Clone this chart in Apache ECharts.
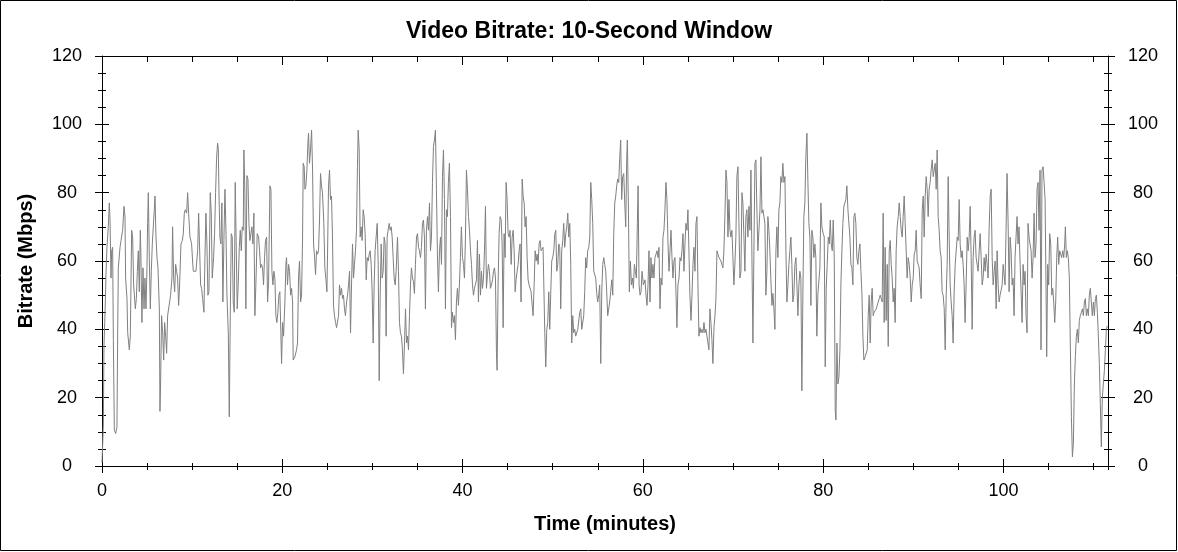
<!DOCTYPE html>
<html>
<head>
<meta charset="utf-8">
<title>Video Bitrate</title>
<script src="https://cdn.jsdelivr.net/npm/echarts@6/dist/echarts.min.js"></script>
<style>
	html, body { margin: 0; padding: 0; background: #fff; }
	#chart { width: 1178px; height: 552px; }
</style>
</head>
<body>
<div id="chart"></div>
<script>
// [minute, Mbps], one list per stretch of the film
var part1 = [
	[0.00, 1], [0.15, 12], [0.22, 35], [0.30, 42], [0.37, 48], [0.44, 56], [0.55, 64], [0.70, 70], [0.81, 77], [0.89, 72],
	[1.00, 55], [1.07, 63], [1.18, 64], [1.26, 37], [1.37, 10.5], [1.52, 9.5], [1.66, 11.5], [1.74, 39], [1.81, 58], [2.00, 64],
	[2.11, 66], [2.29, 69], [2.44, 76], [2.55, 73], [2.62, 55], [2.77, 49], [2.85, 39], [3.03, 34], [3.14, 38], [3.29, 69],
	[3.40, 67], [3.51, 53], [3.70, 46], [3.81, 49], [3.92, 57], [4.03, 63], [4.14, 51], [4.25, 69], [4.32, 61], [4.43, 42],
	[4.55, 58], [4.66, 46], [4.77, 55], [4.88, 46], [4.99, 58], [5.06, 71], [5.14, 80], [5.25, 61], [5.36, 46], [5.47, 57],
	[5.58, 65], [5.69, 65], [5.80, 75], [5.88, 79], [5.99, 67], [6.10, 61], [6.21, 58], [6.36, 46], [6.43, 16], [6.50, 24],
	[6.61, 44], [6.73, 39], [6.84, 31], [6.95, 42], [7.06, 38], [7.17, 33], [7.28, 44], [7.46, 44], [7.61, 50], [7.76, 55],
	[7.83, 70], [7.95, 55], [8.06, 51], [8.17, 59], [8.28, 57], [8.39, 55], [8.50, 47], [8.61, 53], [8.76, 65], [8.91, 66],
	[9.02, 68], [9.13, 74], [9.24, 75], [9.39, 74], [9.50, 80], [9.61, 74], [9.76, 67], [9.94, 65], [10.05, 60], [10.13, 57],
	[10.42, 57], [10.61, 63], [10.72, 74], [10.83, 74], [10.94, 53], [11.05, 52], [11.16, 49], [11.31, 45], [11.42, 61], [11.53, 74],
	[11.64, 65], [11.75, 50], [11.86, 51], [12.01, 80], [12.12, 74], [12.23, 55], [12.38, 61], [12.49, 68], [12.60, 80], [12.71, 90],
	[12.82, 94.5], [12.90, 93], [12.97, 81], [13.08, 67], [13.19, 65], [13.30, 77], [13.41, 48], [13.53, 67], [13.64, 81], [13.75, 69],
	[13.86, 50], [14.01, 39], [14.12, 14.4], [14.23, 44], [14.34, 68], [14.45, 67], [14.56, 48], [14.67, 45], [14.78, 83], [14.89, 83],
	[15.00, 46], [15.11, 53], [15.23, 64], [15.34, 69], [15.45, 63], [15.56, 70], [15.67, 69], [15.74, 92.5], [15.85, 80], [15.96, 46],
	[16.07, 85], [16.19, 84], [16.30, 71], [16.41, 66], [16.52, 68], [16.63, 70], [16.74, 65], [16.85, 74], [16.96, 44], [17.07, 53],
	[17.22, 68], [17.37, 67], [17.48, 63], [17.59, 58], [17.70, 59], [17.81, 58], [17.92, 53], [18.03, 61], [18.14, 66], [18.26, 67],
	[18.37, 48], [18.48, 54], [18.63, 82], [18.74, 81], [18.85, 57], [18.96, 53], [19.07, 57], [19.18, 55], [19.29, 44], [19.40, 42],
	[19.51, 45], [19.62, 50], [19.73, 51], [19.84, 39], [19.92, 30], [20.03, 42], [20.14, 38]
];

var part2 = [
	[20.29, 48], [20.40, 59], [20.47, 61], [20.58, 53], [20.70, 59], [20.81, 57], [20.92, 50], [21.03, 52], [21.14, 48], [21.21, 31],
	[21.40, 32], [21.58, 34], [21.69, 36], [21.80, 55], [21.91, 60], [22.03, 48], [22.14, 50], [22.25, 67], [22.32, 88.6], [22.43, 87.6],
	[22.51, 81], [22.62, 82], [22.73, 86.6], [22.84, 94.4], [22.91, 97.4], [23.02, 88.6], [23.13, 92.5], [23.25, 98.3], [23.36, 86.6], [23.47, 65],
	[23.58, 61], [23.69, 56], [23.80, 63], [23.91, 62], [24.02, 63], [24.13, 72], [24.24, 85.6], [24.35, 82], [24.46, 80], [24.61, 71],
	[24.72, 58], [24.83, 55], [24.95, 51], [25.02, 62], [25.13, 82], [25.24, 86.6], [25.35, 78], [25.46, 79], [25.57, 67], [25.68, 47],
	[25.79, 44], [25.91, 42], [26.02, 40.5], [26.13, 40.5], [26.24, 44], [26.35, 53], [26.46, 50], [26.57, 52], [26.68, 49], [26.79, 50],
	[26.90, 46], [27.01, 44], [27.13, 48], [27.24, 50], [27.35, 53], [27.46, 57], [27.57, 39], [27.68, 53], [27.79, 65], [27.90, 55],
	[28.01, 59], [28.12, 63], [28.23, 69], [28.34, 87.6], [28.42, 98.3], [28.53, 92.5], [28.64, 67], [28.75, 70], [28.86, 66], [28.97, 75],
	[29.08, 73], [29.19, 68], [29.31, 54.5], [29.42, 61], [29.53, 60], [29.64, 62], [29.75, 63], [29.86, 59], [29.97, 51], [30.08, 36],
	[30.19, 53], [30.30, 63], [30.41, 67], [30.53, 71], [30.64, 59], [30.75, 25], [30.86, 50], [30.97, 65], [31.08, 55], [31.19, 57],
	[31.30, 67], [31.41, 65], [31.52, 38], [31.63, 67], [31.74, 69], [31.86, 71], [31.97, 69], [32.08, 70], [32.19, 67], [32.30, 61],
	[32.41, 55], [32.52, 53], [32.63, 57], [32.78, 67], [32.89, 57], [33.00, 42], [33.11, 39], [33.22, 38], [33.33, 34], [33.44, 27],
	[33.56, 36], [33.67, 46], [33.78, 36], [33.89, 38], [34.00, 34], [34.11, 44], [34.22, 53], [34.33, 58], [34.44, 55], [34.55, 54],
	[34.66, 50.5], [34.77, 59], [34.89, 67], [35.00, 68], [35.11, 64], [35.22, 63], [35.33, 61], [35.44, 64], [35.55, 71], [35.66, 72],
	[35.77, 67], [35.88, 46], [35.99, 69], [36.11, 73], [36.22, 69], [36.33, 77], [36.44, 63], [36.55, 67], [36.66, 83], [36.77, 93.5],
	[36.88, 95.4], [36.99, 98.3], [37.10, 81], [37.21, 62], [37.32, 51], [37.44, 63], [37.55, 67], [37.66, 59], [37.77, 84.7], [37.88, 92.5],
	[37.99, 78], [38.10, 46], [38.21, 75], [38.32, 73], [38.43, 83], [38.54, 88.6], [38.66, 73], [38.77, 40.5], [38.88, 45], [38.99, 42],
	[39.10, 44], [39.21, 37], [39.32, 48], [39.43, 52], [39.54, 47], [39.65, 53], [39.76, 61], [39.87, 70], [39.99, 61], [40.10, 59]
];

var part3 = [
	[40.21, 55], [40.32, 67], [40.43, 86.6], [40.54, 81], [40.66, 73], [40.77, 69], [40.88, 63], [40.99, 59], [41.10, 53], [41.21, 50],
	[41.32, 52], [41.43, 52], [41.54, 54.5], [41.65, 66], [41.76, 48], [41.87, 62], [41.99, 50], [42.10, 57], [42.21, 52], [42.32, 55],
	[42.43, 63], [42.54, 76], [42.65, 52], [42.76, 56], [42.87, 59], [42.98, 57], [43.09, 52], [43.21, 53], [43.32, 54.5], [43.43, 57],
	[43.54, 58], [43.65, 55], [43.76, 33], [43.83, 28], [43.94, 53], [44.05, 68], [44.17, 73], [44.28, 72], [44.39, 65], [44.50, 40.5],
	[44.61, 68], [44.72, 61], [44.83, 83], [44.94, 78], [45.05, 68], [45.16, 67], [45.27, 69], [45.39, 59], [45.50, 67], [45.61, 69],
	[45.72, 63], [45.83, 51], [45.94, 54.5], [46.05, 57], [46.16, 59], [46.27, 63], [46.38, 65], [46.49, 48], [46.61, 84], [46.72, 79],
	[46.83, 77], [46.94, 70], [47.05, 73], [47.16, 61], [47.27, 54.5], [47.38, 53], [47.49, 53], [47.60, 51], [47.71, 50.5], [47.82, 44],
	[47.94, 53], [48.05, 63], [48.16, 60], [48.27, 62], [48.38, 59], [48.49, 65], [48.60, 66], [48.71, 63], [48.82, 63], [48.93, 64],
	[49.04, 64], [49.12, 39], [49.23, 29], [49.34, 40], [49.45, 42], [49.56, 51], [49.67, 40], [49.78, 50.5], [49.89, 60], [50.00, 61],
	[50.12, 63], [50.23, 68], [50.34, 69], [50.45, 57], [50.56, 59], [50.67, 65], [50.78, 64], [50.89, 46], [51.00, 63], [51.11, 66],
	[51.22, 71], [51.33, 64], [51.45, 68], [51.56, 70], [51.67, 74], [51.78, 67], [51.89, 71], [52.00, 59], [52.11, 36], [52.22, 44],
	[52.33, 39], [52.44, 40], [52.55, 38], [52.67, 38], [52.78, 40], [52.89, 40.5], [53.00, 45], [53.11, 46], [53.22, 40], [53.33, 40.5],
	[53.44, 44], [53.55, 51], [53.66, 61], [53.77, 58], [53.88, 63], [54.00, 64], [54.11, 67], [54.22, 83], [54.33, 78], [54.44, 71],
	[54.55, 57], [54.66, 57], [54.77, 55], [54.88, 50.5], [54.99, 48], [55.10, 50], [55.21, 53], [55.33, 30], [55.44, 51], [55.55, 59],
	[55.66, 61], [55.77, 59], [55.88, 57], [55.99, 51], [56.10, 44], [56.21, 44], [56.32, 48], [56.43, 51], [56.55, 54.5], [56.66, 50],
	[56.77, 68], [56.88, 77], [56.99, 79], [57.10, 82], [57.21, 84], [57.32, 83], [57.43, 90], [57.54, 95.4], [57.65, 78], [57.76, 84.7],
	[57.88, 85.6], [57.99, 77], [58.10, 70], [58.21, 90], [58.28, 95.4], [58.39, 77], [58.50, 51], [58.62, 60], [58.73, 53], [58.84, 55],
	[58.95, 52], [59.06, 59], [59.17, 57], [59.28, 55], [59.39, 71], [59.47, 82], [59.58, 53], [59.69, 50], [59.80, 51], [59.91, 57],
	[60.06, 53]
];

var part4 = [
	[60.24, 54.5], [60.35, 50], [60.46, 47], [60.57, 53], [60.68, 63], [60.79, 48], [60.90, 61], [61.01, 55], [61.12, 59], [61.23, 55],
	[61.34, 61], [61.46, 62], [61.57, 63], [61.68, 61], [61.79, 64], [61.90, 46], [62.01, 55], [62.12, 53], [62.23, 67], [62.34, 69],
	[62.45, 75], [62.56, 83], [62.67, 78], [62.79, 65], [62.90, 57], [63.01, 63], [63.12, 69], [63.23, 61], [63.34, 55], [63.45, 60],
	[63.56, 61], [63.67, 51], [63.78, 40.5], [63.89, 53], [64.01, 55], [64.12, 61], [64.23, 60], [64.34, 63], [64.45, 68], [64.56, 57],
	[64.67, 65], [64.78, 71], [64.89, 69], [65.00, 75], [65.11, 63], [65.22, 50], [65.34, 42.6], [65.45, 50], [65.56, 59], [65.67, 64],
	[65.78, 57], [65.89, 71], [66.00, 73], [66.11, 53], [66.22, 38], [66.33, 40.5], [66.44, 39], [66.56, 40], [66.67, 39], [66.78, 42],
	[66.89, 39], [67.00, 40], [67.11, 38], [67.22, 36], [67.33, 34], [67.44, 46], [67.55, 42], [67.66, 37], [67.77, 30], [67.89, 40.5],
	[68.00, 44], [68.11, 49], [68.22, 63], [68.33, 62], [68.44, 61], [68.55, 61], [68.66, 60], [68.77, 59], [68.88, 58], [68.99, 63],
	[69.10, 73], [69.22, 86.6], [69.33, 83], [69.44, 67], [69.55, 78], [69.66, 69], [69.77, 67], [69.88, 69], [69.99, 61], [70.10, 53],
	[70.21, 59], [70.32, 67], [70.43, 84.7], [70.55, 87.6], [70.66, 71], [70.77, 55], [70.88, 57], [70.99, 80], [71.10, 77], [71.21, 67],
	[71.32, 57], [71.43, 73], [71.54, 75], [71.65, 67], [71.77, 76], [71.88, 69], [71.99, 86.6], [72.10, 61], [72.21, 36], [72.32, 63],
	[72.43, 88.6], [72.54, 89.6], [72.65, 75], [72.76, 63], [72.87, 63], [72.99, 75], [73.10, 90.5], [73.21, 74], [73.32, 75], [73.43, 73],
	[73.54, 71], [73.65, 50], [73.76, 57], [73.87, 73], [73.98, 69], [74.09, 63], [74.20, 54.5], [74.32, 47], [74.43, 50.5], [74.54, 46],
	[74.65, 40], [74.76, 63], [74.87, 70], [74.98, 61], [75.09, 75], [75.20, 77], [75.31, 84.7], [75.42, 83], [75.53, 88.6], [75.65, 83],
	[75.76, 84.7], [75.87, 63], [75.98, 48], [76.09, 53], [76.20, 59], [76.31, 63], [76.42, 67], [76.53, 59], [76.64, 48], [76.75, 50],
	[76.87, 59], [76.98, 61], [77.09, 53], [77.20, 44], [77.31, 53], [77.42, 57], [77.53, 55], [77.64, 22], [77.75, 50], [77.86, 73],
	[77.97, 77], [78.08, 90.5], [78.20, 97.4], [78.31, 83], [78.42, 71], [78.53, 67], [78.64, 47], [78.75, 69], [78.86, 67], [78.97, 61],
	[79.08, 65], [79.19, 61], [79.30, 38], [79.42, 50.5], [79.53, 51], [79.64, 58], [79.75, 77], [79.86, 70], [80.01, 68]
];

var part5 = [
	[80.12, 67], [80.23, 29], [80.34, 52], [80.45, 59], [80.57, 67], [80.68, 65], [80.79, 72], [80.90, 65], [81.01, 63], [81.12, 72],
	[81.23, 61], [81.34, 16.4], [81.42, 13.5], [81.53, 36], [81.64, 24], [81.75, 26], [81.86, 34], [81.97, 53], [82.08, 63], [82.19, 71],
	[82.30, 76], [82.41, 77], [82.52, 78], [82.63, 82], [82.75, 75], [82.86, 75], [82.97, 67], [83.08, 59], [83.19, 58], [83.30, 53],
	[83.41, 73], [83.52, 74], [83.63, 71], [83.74, 61], [83.85, 59], [83.97, 63], [84.08, 65], [84.19, 57], [84.30, 50.5], [84.41, 38],
	[84.52, 31], [84.67, 32], [84.78, 32], [84.89, 34], [85.00, 44], [85.11, 50], [85.22, 36], [85.33, 48], [85.44, 52], [85.55, 44],
	[85.66, 45], [85.78, 45], [85.89, 46], [86.00, 47], [86.11, 48], [86.22, 49], [86.33, 50], [86.44, 49], [86.55, 48], [86.66, 74],
	[86.77, 42], [86.88, 64], [86.99, 42.6], [87.11, 59], [87.22, 35], [87.33, 63], [87.44, 66], [87.55, 59], [87.66, 55], [87.77, 48],
	[87.88, 52], [87.99, 42], [88.10, 63], [88.21, 70], [88.33, 73], [88.44, 77], [88.55, 73], [88.66, 69], [88.77, 67], [88.88, 73],
	[88.99, 79], [89.10, 71], [89.21, 63], [89.32, 55], [89.43, 61], [89.55, 59], [89.66, 55], [89.77, 48], [89.88, 53], [89.99, 55],
	[90.10, 62], [90.21, 63], [90.32, 69], [90.43, 60], [90.54, 59], [90.65, 58], [90.76, 53], [90.88, 49], [90.99, 75], [91.10, 79],
	[91.21, 67], [91.32, 79], [91.43, 84.7], [91.54, 81], [91.65, 73], [91.76, 81], [91.87, 83], [91.98, 86.6], [92.10, 89.6], [92.21, 84.7],
	[92.32, 84.7], [92.43, 88.6], [92.54, 81], [92.65, 92.5], [92.76, 73], [92.87, 69], [92.98, 63], [93.09, 61], [93.20, 51], [93.31, 50],
	[93.43, 46], [93.54, 34], [93.65, 50], [93.76, 59], [93.87, 84.7], [93.98, 67], [94.09, 53], [94.20, 48], [94.31, 44], [94.42, 36],
	[94.53, 51], [94.65, 59], [94.76, 63], [94.87, 67], [94.98, 66], [95.09, 78], [95.20, 65], [95.31, 61], [95.42, 63], [95.53, 59],
	[95.64, 53], [95.75, 42], [95.86, 53], [95.98, 67], [96.09, 63], [96.20, 67], [96.31, 76], [96.42, 61], [96.53, 40], [96.64, 61],
	[96.75, 67], [96.86, 69], [96.97, 61], [97.08, 59], [97.19, 57], [97.31, 63], [97.42, 68], [97.53, 61], [97.64, 53], [97.75, 55],
	[97.86, 61], [97.97, 57], [98.08, 62], [98.19, 59], [98.30, 55], [98.41, 69], [98.53, 79], [98.64, 81], [98.75, 61], [98.86, 53],
	[98.97, 57], [99.08, 60], [99.19, 46], [99.30, 63], [99.41, 53], [99.52, 48], [99.63, 50], [99.74, 50], [99.86, 53], [99.97, 59]
];

var part6 = [
	[100.07, 59], [100.18, 53], [100.29, 69], [100.40, 85.6], [100.52, 71], [100.63, 51], [100.74, 67], [100.85, 63], [100.96, 53], [101.07, 55],
	[101.18, 44], [101.29, 61], [101.40, 61], [101.51, 73], [101.62, 65], [101.73, 70], [101.85, 59], [101.96, 51], [102.07, 42], [102.18, 59],
	[102.29, 53], [102.40, 57], [102.51, 44], [102.62, 39], [102.73, 71], [102.84, 67], [102.95, 65], [103.07, 63], [103.18, 55], [103.29, 61],
	[103.40, 74], [103.51, 61], [103.62, 65], [103.73, 81], [103.84, 83], [103.95, 69], [104.06, 86.6], [104.17, 34], [104.28, 86.6], [104.40, 87.6],
	[104.51, 83], [104.62, 78], [104.73, 51], [104.80, 32], [104.91, 59], [105.02, 53], [105.13, 68], [105.25, 65], [105.36, 50], [105.47, 52],
	[105.58, 48], [105.69, 42], [105.80, 48], [105.91, 61], [106.02, 67], [106.13, 59], [106.24, 63], [106.35, 63], [106.46, 61], [106.58, 63],
	[106.69, 61], [106.80, 65], [106.87, 70], [106.98, 61], [107.09, 63], [107.20, 61], [107.31, 55], [107.43, 34], [107.54, 14.4], [107.65, 2.7],
	[107.76, 6.6], [107.87, 24], [107.98, 32], [108.09, 38], [108.20, 40], [108.31, 36], [108.42, 42.6], [108.53, 44], [108.65, 45], [108.76, 46],
	[108.87, 44], [108.98, 48], [109.09, 49], [109.20, 44], [109.31, 46], [109.42, 44], [109.53, 50], [109.64, 52], [109.75, 48], [109.86, 44],
	[109.98, 48], [110.09, 44], [110.20, 49], [110.31, 50], [110.42, 45], [110.53, 38], [110.64, 30], [110.75, 18], [110.86, 5.6], [110.97, 20],
	[111.08, 24], [111.20, 28], [111.31, 34], [111.42, 40], [111.52, 41]
];

var bitrate = part1.concat(part2, part3, part4, part5, part6);

var timeMax = 111.6;
var rateMax = 120;
var fontName = '"Liberation Sans", Arial, sans-serif';

var myChart = echarts.init(document.getElementById('chart'));

// several grids on the same rectangle so that ticks can cross the axis lines
var box = { left: 102, right: 70, top: 56, bottom: 86 };
var grids = [];
for (var g = 0; g < 4; g++) {
	grids.push({ left: box.left, right: box.right, top: box.top, bottom: box.bottom, show: false });
}

function timeAxis(gridIndex, position, interval, tickLen, inside, extra) {
	var axis = {
		type: 'value',
		gridIndex: gridIndex,
		position: position,
		min: 0,
		max: timeMax,
		interval: interval,
		axisLine: { show: false, onZero: false, lineStyle: { color: '#000', width: 1 } },
		axisTick: { show: true, inside: inside, length: tickLen, lineStyle: { color: '#000', width: 1 } },
		axisLabel: { show: false },
		splitLine: { show: false }
	};
	return echarts.util.merge(axis, extra || {}, true);
}

function rateAxis(gridIndex, position, inside, extra) {
	var axis = {
		type: 'value',
		gridIndex: gridIndex,
		position: position,
		min: 0,
		max: rateMax,
		interval: 20,
		axisLine: { show: false, onZero: false, lineStyle: { color: '#000', width: 1 } },
		axisTick: { show: true, inside: inside, length: 7, lineStyle: { color: '#000', width: 1 } },
		minorTick: { show: true, splitNumber: 4, length: 4, lineStyle: { color: '#000', width: 1 } },
		axisLabel: { show: false },
		splitLine: { show: false },
		minorSplitLine: { show: false }
	};
	return echarts.util.merge(axis, extra || {}, true);
}

var tickLabel = { show: true, color: '#000', fontFamily: fontName, fontSize: 18 };

var xAxes = [
	timeAxis(0, 'bottom', 20, 7, false, {
		axisLine: { show: true },
		axisLabel: echarts.util.extend({ margin: 16, showMaxLabel: false,
			formatter: function(v) { return v % 20 === 0 ? String(v) : ''; } }, tickLabel),
		name: 'Time (minutes)',
		nameLocation: 'middle',
		nameGap: 48,
		nameTextStyle: { color: '#000', fontFamily: fontName, fontSize: 20, fontWeight: 'bold' }
	}),
	timeAxis(0, 'top', 20, 9, true, { axisLine: { show: true } }),
	timeAxis(1, 'bottom', 20, 7, true),
	timeAxis(1, 'top', 5, 6, true),
	timeAxis(2, 'bottom', 5, 4, false),
	timeAxis(3, 'bottom', 5, 3, true)
];

var yAxes = [
	rateAxis(0, 'left', false, {
		axisLine: { show: true },
		axisLabel: echarts.util.extend({ margin: 35, align: 'center' }, tickLabel),
		name: 'Bitrate (Mbps)',
		nameLocation: 'middle',
		nameGap: 66,
		nameTextStyle: { color: '#000', fontFamily: fontName, fontSize: 20, fontWeight: 'bold' }
	}),
	rateAxis(0, 'right', false, {
		axisLine: { show: true },
		axisLabel: echarts.util.extend({ margin: 35, align: 'center' }, tickLabel)
	}),
	rateAxis(1, 'left', true),
	rateAxis(1, 'right', true),
	rateAxis(2, 'left', false, { show: false }),
	rateAxis(3, 'left', false, { show: false })
];

var option = {
	backgroundColor: '#fff',
	animation: false,
	title: {
		text: 'Video Bitrate: 10-Second Window',
		left: 'center',
		top: 15,
		textStyle: { color: '#000', fontFamily: fontName, fontSize: 23, fontWeight: 'bold' }
	},
	graphic: [{
		type: 'rect',
		shape: { x: 0.5, y: 0.5, width: 1176, height: 550 },
		style: { fill: 'none', stroke: '#000', lineWidth: 1 },
		silent: true
	}],
	grid: grids,
	xAxis: xAxes,
	yAxis: yAxes,
	series: [{
		name: 'Bitrate',
		type: 'line',
		xAxisIndex: 0,
		yAxisIndex: 0,
		data: bitrate,
		showSymbol: false,
		symbol: 'none',
		lineStyle: { color: '#808080', width: 1 },
		itemStyle: { color: '#808080' }
	}]
};
myChart.setOption(option);
</script>
</body>
</html>
